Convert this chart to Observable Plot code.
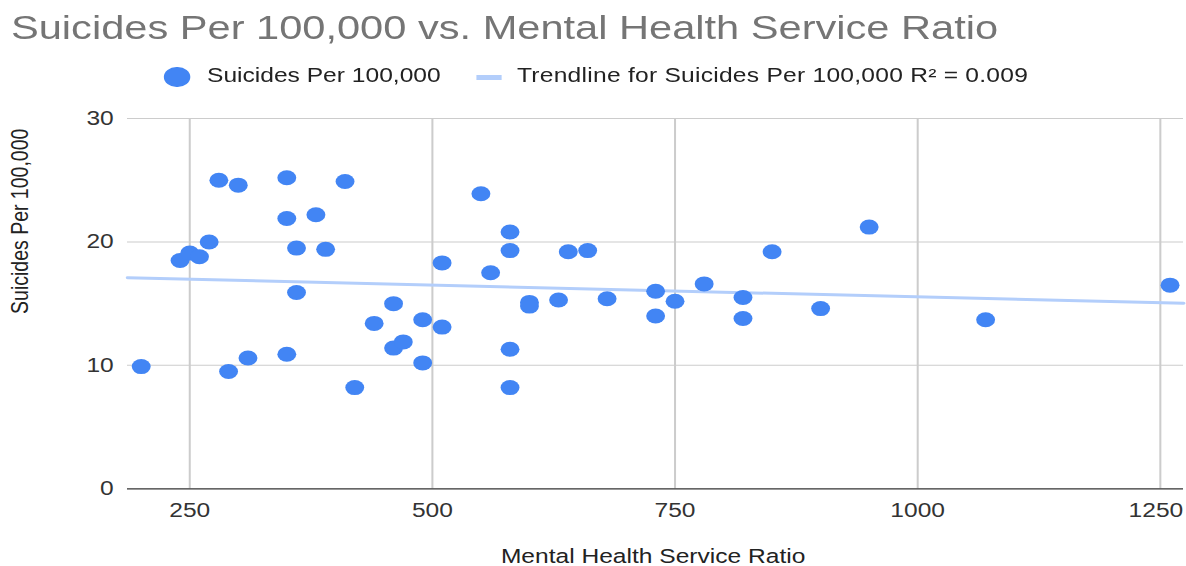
<!DOCTYPE html>
<html>
<head>
<meta charset="utf-8">
<script src="https://cdn.jsdelivr.net/npm/d3@7"></script>
<script src="https://cdn.jsdelivr.net/npm/@observablehq/plot@0.6"></script>
<style>
  html, body { margin: 0; padding: 0; background: #fff; overflow: hidden; }
  #wrap { position: relative; width: 941px; height: 566px; transform-origin: 0 0; font-family: "Liberation Sans", Arial, sans-serif; }
  #header { position: relative; width: 941px; height: 100px; }
  .abs { position: absolute; white-space: nowrap; line-height: 1; }
  #chart svg { display: block; }
</style>
</head>
<body>
<div id="wrap">
  <div id="header"></div>
  <div id="chart"></div>
</div>
<script>
// ---- data ----
const titleText = "Suicides Per 100,000 vs. Mental Health Service Ratio";
const xLabel = "Mental Health Service Ratio";
const yLabel = "Suicides Per 100,000";
const seriesName = "Suicides Per 100,000";
const trendName = "Trendline for Suicides Per 100,000 R\u00B2 = 0.009";

const serviceRatio = [200,240,250,260,270,280,290,300,310,350,350,350,360,360,380,390,410,420,440,460,460,470,490,490,510,510,550,560,580,580,580,580,600,600,630,640,660,680,730,730,750,780,820,820,850,900,950,1070,1260];
const suicides = [9.9,18.5,19.1,18.8,20.0,25.0,9.5,24.6,10.6,25.2,21.9,10.9,19.5,15.9,22.2,19.4,24.9,8.2,13.4,15.0,11.4,11.9,13.7,10.2,18.3,13.1,23.9,17.5,20.8,19.3,11.3,8.2,15.1,14.8,15.3,19.2,19.3,15.4,16.0,14.0,15.2,16.6,15.5,13.8,19.2,14.6,21.2,13.7,16.5];

const trendX = [186, 1274];
const trendY = [17.1, 15.03];

const xTicks = [250, 500, 750, 1000, 1250];
const yTicks = [0, 10, 20, 30];

// ---- layout ----
const W = 941, FULLW = 1186, SX = FULLW / W;
const wrap = document.getElementById("wrap");
wrap.style.transform = `scaleX(${SX})`;

const points = serviceRatio.map((x, i) => ({x, y: suicides[i]}));
const trend = trendX.map((x, i) => ({x, y: trendY[i]}));

// header: title + legend
const header = document.getElementById("header");
function addText(txt, left, baseline, fs, color, ls) {
  const s = document.createElement("div");
  s.className = "abs";
  s.textContent = txt;
  s.style.left = left + "px";
  s.style.top = (baseline - 0.8465 * fs) + "px";
  s.style.fontSize = fs + "px";
  s.style.color = color;
  if (ls) s.style.letterSpacing = ls + "px";
  header.appendChild(s);
}
addText(titleText, 11 / SX, 39.3, 33, "#757575");
const dotEl = document.createElement("div");
dotEl.className = "abs";
Object.assign(dotEl.style, {left: (177 / SX - 10.3) + "px", top: (77 - 10.3) + "px", width: "20.6px", height: "20.6px", borderRadius: "50%", background: "#4285f4"});
header.appendChild(dotEl);
addText(seriesName, 207 / SX, 82.7, 19.5, "#222");
const sw = document.createElement("div");
sw.className = "abs";
Object.assign(sw.style, {left: (477 / SX) + "px", top: "75px", width: (25 / SX) + "px", height: "5px", background: "#b3cefb"});
header.appendChild(sw);
addText(trendName, 517 / SX, 82.7, 19.5, "#222", 0.2);

// chart
const H = 466;
const lastTick = xTicks[xTicks.length - 1];
const chart = Plot.plot({
  width: W,
  height: H,
  marginTop: 18,
  marginBottom: 77.7,
  marginLeft: 127 / SX,
  marginRight: 3 / SX,
  style: {fontFamily: '"Liberation Sans", Arial, sans-serif', fontSize: "19.5px", color: "#333", background: "#fff"},
  x: {domain: [186, 1274]},
  y: {domain: [0, 30]},
  marks: [
    Plot.gridX(xTicks, {stroke: "#cccccc", strokeOpacity: 1, strokeWidth: 1.6}),
    Plot.gridY(yTicks.filter(d => d > 0), {stroke: "#cccccc", strokeOpacity: 1, strokeWidth: 1}),
    Plot.ruleY([0], {stroke: "#333", strokeWidth: 1.3}),
    Plot.axisX(xTicks.slice(0, -1), {tickSize: 0, tickPadding: 14, label: null, fill: "#333", tickFormat: d => String(d)}),
    Plot.axisX([lastTick], {tickSize: 0, tickPadding: 14, label: null, fill: "#333", tickFormat: d => String(d), dx: -3.5}),
    Plot.axisY(yTicks, {tickSize: 0, tickPadding: 11, label: null, fill: "#333", tickFormat: d => String(d)}),
    Plot.line(trend, {x: "x", y: "y", stroke: "#b3cefb", strokeWidth: 3}),
    Plot.dot(points, {x: "x", y: "y", r: 7.5, fill: "#4285f4"}),
    Plot.text([xLabel], {frameAnchor: "bottom", lineAnchor: "middle", dy: 67.8, dx: -2, fill: "#222"}),
    Plot.text([yLabel], {frameAnchor: "left", rotate: -90, lineAnchor: "middle", dx: 15.8 - 127 / SX, dy: 10.3, fill: "#222"})
  ]
});
document.getElementById("chart").appendChild(chart);
</script>
</body>
</html>
